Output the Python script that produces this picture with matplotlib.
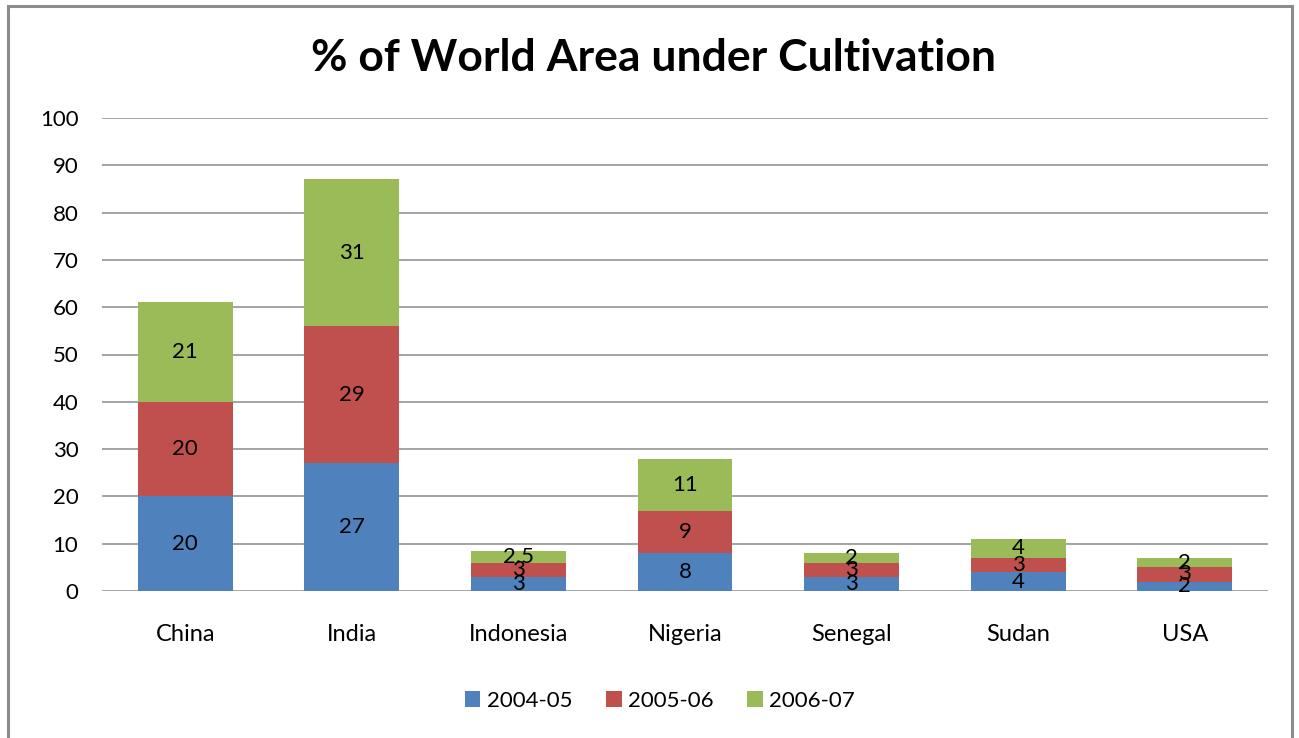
import matplotlib
matplotlib.use("Agg")
import matplotlib.pyplot as plt
from matplotlib.patches import Rectangle
import numpy as np

countries = ["China", "India", "Indonesia", "Nigeria", "Senegal", "Sudan", "USA"]
series_names = ["2004-05", "2005-06", "2006-07"]
vals_2004 = [20, 27, 3, 8, 3, 4, 2]
vals_2005 = [20, 29, 3, 9, 3, 3, 3]
vals_2006 = [21, 31, 2.5, 11, 2, 4, 2]
yticks = [0, 10, 20, 30, 40, 50, 60, 70, 80, 90, 100]

colors = ["#4F81BD", "#C0504D", "#9BBB59"]
font = "Lato"

W, H = 1299, 738
fig = plt.figure(figsize=(W / 100, H / 100), dpi=100)

# outer chart frame
fig.patches.append(Rectangle((8 / W, -0.05), (1292 - 8) / W, 1.05 - 6 / H,
                             transform=fig.transFigure, fill=False,
                             edgecolor="#8c8c8c", linewidth=2.2))

ax = fig.add_axes([102 / W, 1 - 591 / H, (1268 - 102) / W, (591 - 118) / H])
x = np.arange(len(countries))
bottom = np.zeros(len(countries))
for name, vals, c in zip(series_names, [vals_2004, vals_2005, vals_2006], colors):
    vals = np.array(vals, dtype=float)
    ax.bar(x, vals, width=0.57, bottom=bottom, color=c, label=name, zorder=3)
    for xi, b, v in zip(x, bottom, vals):
        ax.text(xi, b + v / 2, f"{v:g}", ha="center", va="center",
                fontsize=16, family=font, color="black", zorder=4)
    bottom += vals

ax.set_xlim(-0.5, len(countries) - 0.5)
ax.set_ylim(0, 100)
ax.set_yticks(yticks)
ax.set_yticklabels([str(t) for t in yticks], family=font, fontsize=16)
ax.set_xticks(x)
ax.set_xticklabels(countries, family=font, fontsize=17)
ax.tick_params(axis="both", length=0)
ax.tick_params(axis="y", pad=17)
ax.tick_params(axis="x", pad=24)
ax.yaxis.grid(True, color="#8c8c8c", linewidth=1.1, zorder=0)
for s in ax.spines.values():
    s.set_visible(False)

fig.text(653 / W, 1 - 58 / H, "% of World Area under Cultivation",
         ha="center", va="center", fontsize=32, fontweight="bold", family=font)

leg = fig.legend(loc="center", bbox_to_anchor=(660 / W, 1 - 701 / H),
                 ncol=3, frameon=False, prop={"family": font, "size": 16},
                 handlelength=0.7, handleheight=0.7, handletextpad=0.3,
                 columnspacing=1.5)

fig.savefig("out.png", dpi=100)
